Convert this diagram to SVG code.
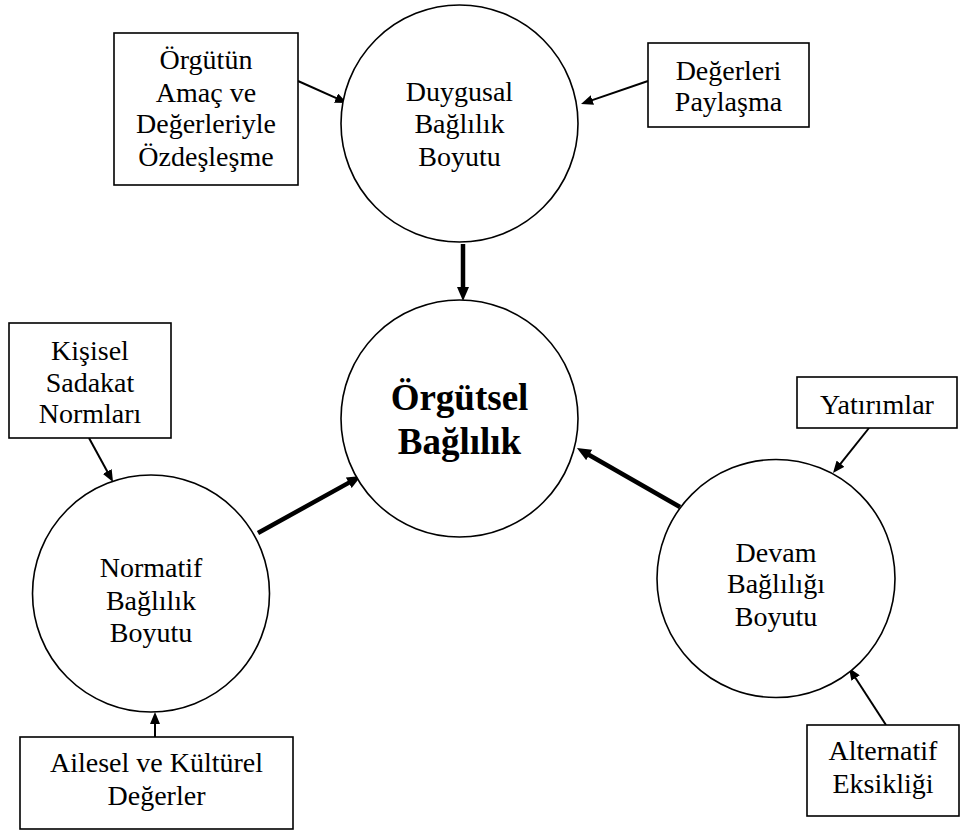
<svg xmlns="http://www.w3.org/2000/svg" width="961" height="831" viewBox="0 0 961 831">
<style>
.n{fill:#fff;stroke:#000;stroke-width:1.6}
.t{font-family:"Liberation Serif","Times New Roman",serif;font-size:28px;fill:#000;text-anchor:middle}
.b{font-family:"Liberation Serif","Times New Roman",serif;font-size:37px;font-weight:bold;fill:#000;text-anchor:middle}
.thin{stroke:#000;stroke-width:2;fill:none}
.thick{stroke:#000;stroke-width:4.5;fill:none}
</style>
<defs>
<marker id="ah" markerUnits="userSpaceOnUse" markerWidth="12" markerHeight="10" refX="4" refY="5" orient="auto">
<path d="M0,0 L12,5 L0,10 z" fill="#000"/>
</marker>
<marker id="ahb" markerUnits="userSpaceOnUse" markerWidth="14" markerHeight="12" refX="6" refY="6" orient="auto">
<path d="M0,0 L14,6 L0,12 z" fill="#000"/>
</marker>
</defs>
<rect width="961" height="831" fill="#fff"/>
<g id="connectors">
<line class="thin" x1="298" y1="81" x2="339.7" y2="99.7" marker-end="url(#ah)"/>
<line class="thin" x1="648" y1="81" x2="588.6" y2="101.4" marker-end="url(#ah)"/>
<line class="thick" x1="463" y1="244" x2="463" y2="293" marker-end="url(#ahb)"/>
<line class="thin" x1="89" y1="438" x2="109.2" y2="475" marker-end="url(#ah)"/>
<line class="thick" x1="258" y1="533" x2="354" y2="479.9" marker-end="url(#ahb)"/>
<line class="thick" x1="680" y1="507" x2="583.9" y2="452" marker-end="url(#ahb)"/>
<line class="thin" x1="869" y1="428" x2="838" y2="466.8" marker-end="url(#ah)"/>
<line class="thin" x1="155" y1="737" x2="155" y2="720" marker-end="url(#ah)"/>
<line class="thin" x1="886" y1="725" x2="853.4" y2="674.7" marker-end="url(#ah)"/>
</g>
<g id="duygusal">
<circle class="n" cx="459.5" cy="123.5" r="118.5"/>
<text class="t" x="459.5" y="101">Duygusal</text>
<text class="t" x="459.5" y="133">Bağlılık</text>
<text class="t" x="459.5" y="166">Boyutu</text>
</g>
<g id="orgutsel">
<circle class="n" cx="459.5" cy="418.5" r="118.5"/>
<text class="b" x="459.5" y="410">Örgütsel</text>
<text class="b" x="459.5" y="454">Bağlılık</text>
</g>
<g id="normatif">
<circle class="n" cx="151" cy="593.5" r="118.5"/>
<text class="t" x="151" y="577">Normatif</text>
<text class="t" x="151" y="610">Bağlılık</text>
<text class="t" x="151" y="642">Boyutu</text>
</g>
<g id="devam">
<circle class="n" cx="776" cy="578.5" r="119"/>
<text class="t" x="776" y="562">Devam</text>
<text class="t" x="776" y="593">Bağlılığı</text>
<text class="t" x="776" y="626">Boyutu</text>
</g>
<g id="amac">
<rect class="n" x="114" y="33" width="184" height="152"/>
<text class="t" x="206" y="69">Örgütün</text>
<text class="t" x="206" y="102">Amaç ve</text>
<text class="t" x="206" y="133">Değerleriyle</text>
<text class="t" x="206" y="166">Özdeşleşme</text>
</g>
<g id="paylasma">
<rect class="n" x="648" y="43" width="161" height="84"/>
<text class="t" x="728.5" y="80">Değerleri</text>
<text class="t" x="728.5" y="111">Paylaşma</text>
</g>
<g id="sadakat">
<rect class="n" x="9" y="323" width="162" height="115"/>
<text class="t" x="90" y="360">Kişisel</text>
<text class="t" x="90" y="392">Sadakat</text>
<text class="t" x="90" y="423">Normları</text>
</g>
<g id="yatirimlar">
<rect class="n" x="797" y="377" width="160" height="51"/>
<text class="t" x="877" y="414">Yatırımlar</text>
</g>
<g id="ailesel">
<rect class="n" x="20" y="737" width="273" height="92"/>
<text class="t" x="156.5" y="772">Ailesel ve Kültürel</text>
<text class="t" x="156.5" y="805">Değerler</text>
</g>
<g id="alternatif">
<rect class="n" x="807" y="725" width="152" height="91"/>
<text class="t" x="883" y="760">Alternatif</text>
<text class="t" x="883" y="793">Eksikliği</text>
</g>
</svg>
